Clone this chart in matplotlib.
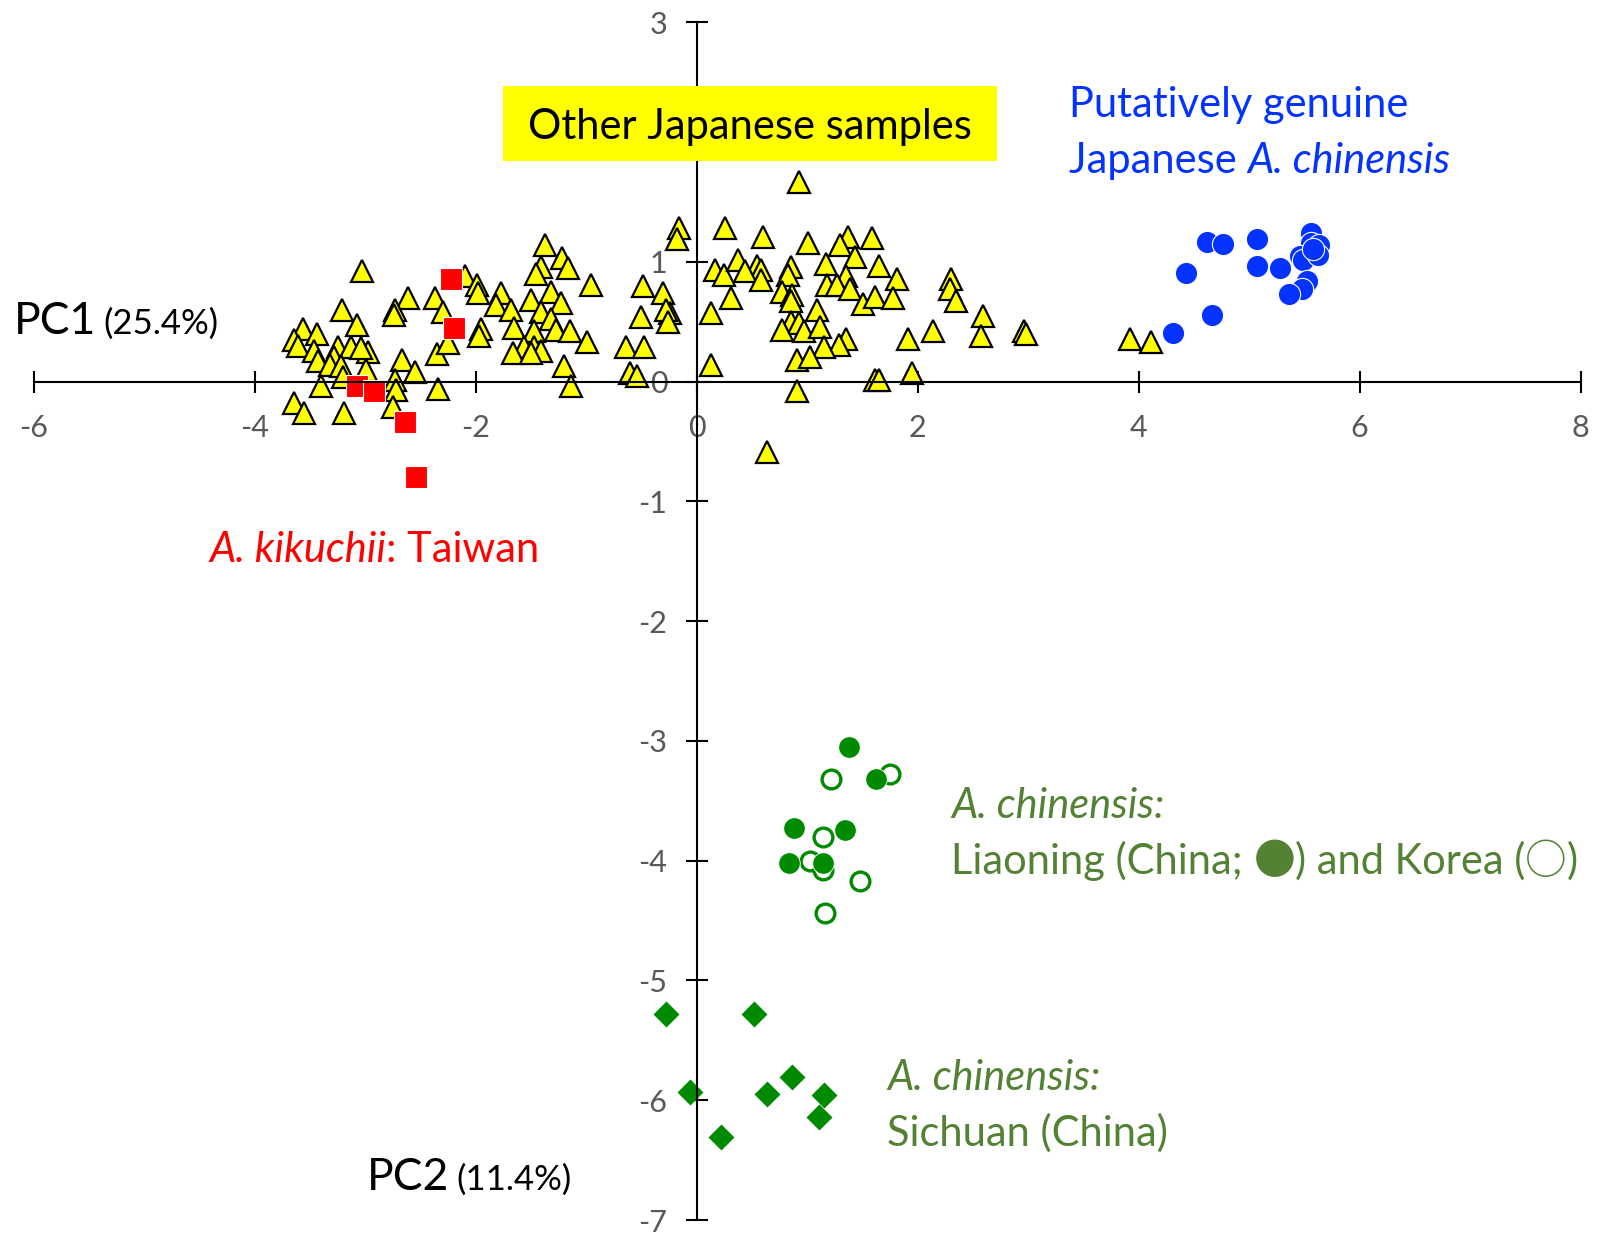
import matplotlib
matplotlib.use("Agg")
import matplotlib.pyplot as plt
from matplotlib.patches import Rectangle

plt.rcParams['font.family'] = ['Lato', 'DejaVu Sans']
plt.rcParams['axes.unicode_minus'] = False

# Other Japanese samples (yellow triangles)
other_x = [-3.03, -2.61, -2.37, -3.21, -2.73, -2.74, -3.07, -3.56, -3.44, -3.64, -3.61, -3.25,
           -3.13, -2.97, -3.04, -3.46, -3.28, -2.35, -2.67, -3.43, -3.32, -3.22, -2.99, -2.55,
           -2.73, -3.20, -3.40, -2.72, -2.34, -3.64, -3.55, -3.19, -2.75,
           -1.37, -1.22, -1.41, -1.16, -1.45, -2.10, -0.96, -1.99, -1.98, -1.77, -1.32, -1.50,
           -1.23, -1.82, -2.30, -1.68, -1.41, -1.32, -1.95, -1.65, -1.47, -1.27, -1.15, -1.97,
           -2.25, -0.99, -1.56, -1.47, -1.41, -1.66, -1.50, -1.20, -1.14,
           -0.16, -0.18, 0.26, -0.49, -0.30, 0.17, 0.25, 0.37, 0.31, -0.50, -0.24, -0.28,
           -0.26, 0.13, -0.64, -0.48, -0.60, -0.54, 0.13,
           0.93, 0.60, 1.01, 1.37, 1.59, 1.30, 0.55, 1.43, 0.58, 0.44, 0.85, 1.17, 1.65,
           0.83, 1.35, 1.81, 1.18, 1.27, 0.58, 0.77, 0.86, 1.39, 1.51, 1.61, 1.78, 0.85,
           1.09, 0.85, 0.93, 0.77, 0.97, 1.12, 1.35, 1.29, 1.15, 0.91, 1.03, 1.61, 1.65,
           0.91, 0.64,
           2.30, 2.29, 2.35, 2.59, 2.57, 2.96, 2.98, 1.91, 2.14, 1.95, 3.92, 4.11]
other_y = [0.92, 0.70, 0.70, 0.60, 0.60, 0.56, 0.47, 0.44, 0.40, 0.35, 0.30, 0.29,
           0.29, 0.25, 0.28, 0.26, 0.21, 0.23, 0.18, 0.17, 0.14, 0.13, 0.10, 0.08,
           0.01, 0.04, -0.04, -0.07, -0.06, -0.18, -0.26, -0.26, -0.21,
           1.14, 1.03, 0.96, 0.95, 0.90, 0.88, 0.81, 0.81, 0.74, 0.74, 0.75, 0.68,
           0.66, 0.64, 0.58, 0.60, 0.58, 0.52, 0.44, 0.45, 0.42, 0.43, 0.42, 0.38,
           0.32, 0.33, 0.29, 0.29, 0.26, 0.24, 0.24, 0.13, -0.04,
           1.28, 1.19, 1.28, 0.80, 0.74, 0.93, 0.89, 1.02, 0.70, 0.54, 0.57, 0.60,
           0.50, 0.57, 0.29, 0.29, 0.07, 0.05, 0.14,
           1.67, 1.21, 1.16, 1.21, 1.20, 1.14, 0.97, 1.04, 0.93, 0.92, 0.96, 0.98, 0.97,
           0.89, 0.88, 0.86, 0.81, 0.81, 0.85, 0.75, 0.72, 0.77, 0.65, 0.71, 0.70, 0.67,
           0.60, 0.50, 0.49, 0.43, 0.42, 0.46, 0.36, 0.31, 0.29, 0.18, 0.21, 0.01, 0.01,
           -0.08, -0.59,
           0.86, 0.77, 0.67, 0.55, 0.38, 0.42, 0.40, 0.36, 0.42, 0.07, 0.36, 0.33]

# A. kikuchii: Taiwan (red squares)
kikuchii_x = [-2.22, -2.20, -3.07, -2.92, -2.64, -2.54]
kikuchii_y = [0.86, 0.45, -0.04, -0.08, -0.34, -0.80]

# Putatively genuine Japanese A. chinensis (blue circles)
genuine_x = [4.62, 4.76, 5.07, 5.07, 5.28, 4.43, 4.66, 4.31, 5.56, 5.56, 5.63, 5.46,
             5.49, 5.62, 5.52, 5.48, 5.36, 5.58]
genuine_y = [1.17, 1.15, 1.19, 0.97, 0.95, 0.91, 0.56, 0.41, 1.24, 1.16, 1.14, 1.05,
             1.02, 1.06, 0.84, 0.77, 0.73, 1.11]

# A. chinensis: Liaoning (filled) and Korea (open)
liaoning_x = [1.38, 1.62, 0.88, 1.34, 0.84, 1.14]
liaoning_y = [-3.05, -3.32, -3.73, -3.74, -4.02, -4.02]
korea_x = [1.22, 1.75, 1.14, 1.03, 1.14, 1.48, 1.16]
korea_y = [-3.32, -3.28, -3.80, -4.00, -4.08, -4.17, -4.44]

# A. chinensis: Sichuan (diamonds)
sichuan_x = [-0.28, 0.52, -0.06, 0.64, 0.86, 1.15, 1.11, 0.22]
sichuan_y = [-5.28, -5.28, -5.93, -5.95, -5.81, -5.96, -6.14, -6.31]

x_ticks = list(range(-6, 9, 2))
y_ticks = list(range(-7, 4))
# the "2" label sits under the yellow box in the original
y_tick_labels = ['-7', '-6', '-5', '-4', '-3', '-2', '-1', '0', '1', '', '3']

BLUE = '#0433FF'
GREEN = '#008A00'
TEXT_GREEN = '#548235'
W, H = 1600, 1236
FS = 30

fig = plt.figure(figsize=(16, 12.36), dpi=100)
ax = fig.add_axes([0.02106, 0.01294, 0.9668, 0.96894])

ax.plot(other_x, other_y, '^', ms=15.5, mfc='#FFFF00', mec='black', mew=1.6, ls='none')
ax.plot(kikuchii_x, kikuchii_y, 's', ms=15.5, mfc='#FF0000', mec='white', mew=0.8, ls='none')
ax.plot(genuine_x, genuine_y, 'o', ms=16, mfc=BLUE, mec='white', mew=0.8, ls='none')
ax.plot(korea_x, korea_y, 'o', ms=13.5, mfc='white', mec=GREEN, mew=2.4, ls='none')
ax.plot(liaoning_x, liaoning_y, 'o', ms=15.5, mfc=GREEN, mec='white', mew=0.6, ls='none')
ax.plot(sichuan_x, sichuan_y, 'D', ms=13.5, mfc=GREEN, mec='none', ls='none')

ax.set_xlim(-6, 8)
ax.set_ylim(-7, 3)
ax.spines['left'].set_position(('data', 0))
ax.spines['bottom'].set_position(('data', 0))
ax.spines['top'].set_visible(False)
ax.spines['right'].set_visible(False)
for s in ['left', 'bottom']:
    ax.spines[s].set_linewidth(1.5)
ax.set_xticks(x_ticks)
ax.set_yticks(y_ticks)
ax.set_yticklabels(y_tick_labels)
ax.tick_params(direction='inout', length=16, width=1.5, labelsize=22, labelcolor='#595959')
ax.tick_params(axis='x', pad=15)
ax.tick_params(axis='y', pad=13)
ax.patch.set_visible(False)

renderer = fig.canvas.get_renderer()


def fx(px):
    return px / W


def fy(py):
    return 1 - py / H


def chain(prev, s, **kw):
    # put the next piece of text right after the previous one, same baseline
    bb = prev.get_window_extent(renderer)
    x = fig.transFigure.inverted().transform((bb.x1, 0))[0]
    return fig.text(x, prev.get_position()[1], s, va='baseline', **kw)


# yellow label box covering the axis
fig.add_artist(Rectangle((fx(503), fy(161)), 494 / W, 75 / H, transform=fig.transFigure,
                         facecolor='#FFFF00', edgecolor='none', zorder=5))
fig.text(fx(750), fy(127), 'Other Japanese samples', fontsize=FS, ha='center', va='center',
         zorder=6)

fig.text(fx(1069), fy(117), 'Putatively genuine', fontsize=FS, color=BLUE, va='baseline')
t = fig.text(fx(1069), fy(173), 'Japanese ', fontsize=FS, color=BLUE, va='baseline')
chain(t, 'A. chinensis', fontsize=FS, color=BLUE, style='italic')

fig.text(fx(14), fy(334), 'PC1', fontsize=32, va='baseline')
fig.text(fx(103), fy(334), '(25.4%)', fontsize=25, va='baseline')
fig.text(fx(367), fy(1190), 'PC2', fontsize=32, va='baseline')
fig.text(fx(456), fy(1190), '(11.4%)', fontsize=25, va='baseline')

t = fig.text(fx(209), fy(562), 'A. kikuchii', fontsize=FS, color='#FF0000', style='italic',
             va='baseline')
chain(t, ': Taiwan', fontsize=FS, color='#FF0000')

fig.text(fx(951), fy(818), 'A. chinensis:', fontsize=FS, color=TEXT_GREEN, style='italic',
         va='baseline')
t = fig.text(fx(951), fy(874), 'Liaoning (China; ', fontsize=FS, color=TEXT_GREEN,
             va='baseline')
t = chain(t, '\u25cf', fontsize=FS, color=TEXT_GREEN, family=['Noto Sans CJK JP'])
t = chain(t, ') and Korea (', fontsize=FS, color=TEXT_GREEN)
t = chain(t, '\u25cb', fontsize=FS, color=TEXT_GREEN, family=['Noto Sans CJK JP'])
chain(t, ')', fontsize=FS, color=TEXT_GREEN)

fig.text(fx(887), fy(1090), 'A. chinensis:', fontsize=FS, color=TEXT_GREEN, style='italic',
         va='baseline')
fig.text(fx(887), fy(1146), 'Sichuan (China)', fontsize=FS, color=TEXT_GREEN, va='baseline')

fig.savefig('out.png', dpi=100)
